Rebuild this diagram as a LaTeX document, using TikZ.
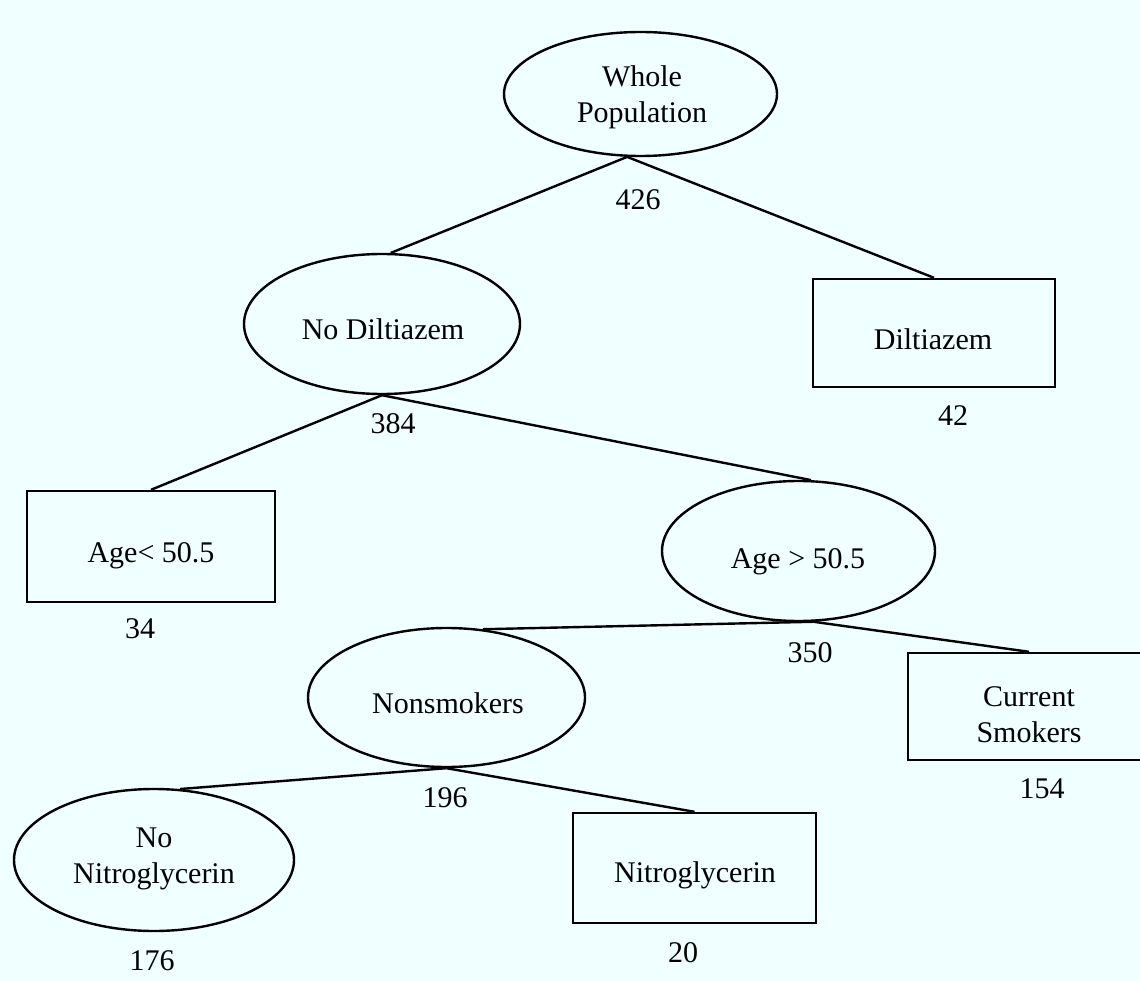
\documentclass[tikz,border=0pt]{standalone}
\usepackage{fontspec}
\setmainfont{Liberation Serif}
\usetikzlibrary{shapes.geometric}
\definecolor{bgcol}{HTML}{F0FFFF}
\tikzset{
  ell/.style={ellipse, draw=black, line width=2.4pt, inner sep=0pt},
  box/.style={rectangle, draw=black, line width=2.4pt, inner sep=0pt},
  lbl/.style={anchor=base, inner sep=0pt, align=center, font=\fontsize{30}{36}\selectfont},
  edge/.style={draw=black, line width=2.4pt}
}
\begin{document}
\begin{tikzpicture}[x=1pt, y=-1pt]
\useasboundingbox (0,0) rectangle (1140,981);
\fill[bgcol] (0,0) rectangle (1140,981);
\clip (0,0) rectangle (1140,981);

% shapes
\node[ell, minimum width=273pt, minimum height=124pt] (wp) at (640.5,94) {};
\node[ell, minimum width=276pt, minimum height=140pt] (nd) at (382,324) {};
\node[box, minimum width=242pt, minimum height=108pt] (dz) at (934,333) {};
\node[box, minimum width=248pt, minimum height=111pt] (ylt) at (151,546.5) {};
\node[ell, minimum width=273pt, minimum height=140pt] (ogt) at (798.5,551) {};
\node[ell, minimum width=277pt, minimum height=139pt] (ns) at (446.5,697.5) {};
\node[box, minimum width=242pt, minimum height=107pt] (cs) at (1029,706.5) {};
\node[ell, minimum width=280pt, minimum height=142pt] (nn) at (154,860) {};
\node[box, minimum width=243pt, minimum height=110pt] (ng) at (694.5,868) {};

% texts (base = baseline of the last line)
\node[lbl] (twp) at (642,123) {Whole\\Population};
\node[lbl] (tnd) at (383,340) {No Diltiazem};
\node[lbl] (tdz) at (933,349) {Diltiazem};
\node[lbl] (tylt) at (151,562) {Age< 50.5};
\node[lbl] (togt) at (798,568) {Age > 50.5};
\node[lbl] (tns) at (448,713) {Nonsmokers};
\node[lbl] (tcs) at (1029,742) {Current\\Smokers};
\node[lbl] (tnn) at (154,883) {No\\Nitroglycerin};
\node[lbl] (tng) at (695,882) {Nitroglycerin};

% counts
\node[lbl] (c426) at (638,210) {426};
\node[lbl] (c384) at (393,433) {384};
\node[lbl] (c42) at (953,425) {42};
\node[lbl] (c34) at (140,638) {34};
\node[lbl] (c350) at (810,662) {350};
\node[lbl] (c154) at (1042,798) {154};
\node[lbl] (c196) at (445,807) {196};
\node[lbl] (c176) at (152,970) {176};
\node[lbl] (c20) at (683,962) {20};

% connectors
\draw[edge] (wp.258) -- (nd.83);
\draw[edge] (wp.258) -- (dz.north);
\draw[edge] (nd.south) -- (ylt.north);
\draw[edge] (nd.south) -- (ogt.80);
\draw[edge] (ogt.282) -- (ns.62);
\draw[edge] (ogt.282) -- (cs.north);
\draw[edge] (ns.south) -- (nn.70);
\draw[edge] (ns.south) -- (ng.north);
\end{tikzpicture}
\end{document}
